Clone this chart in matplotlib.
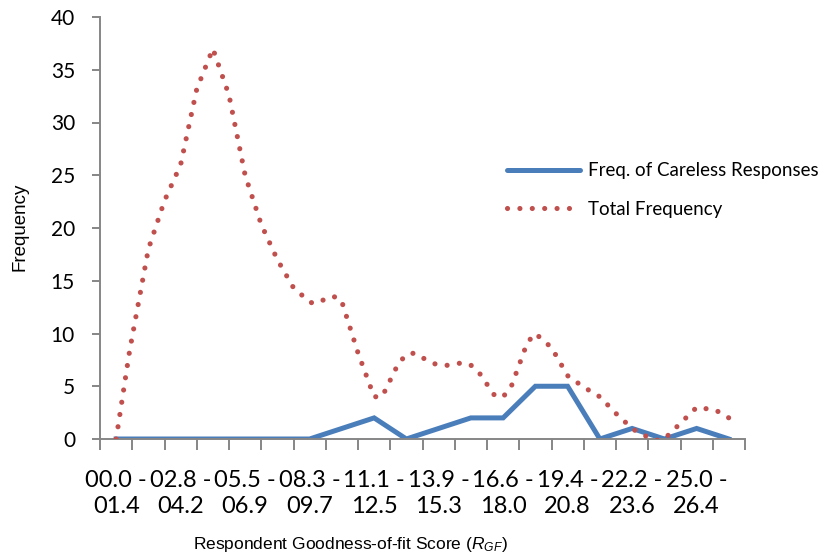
import numpy as np
import matplotlib
matplotlib.use('Agg')
import matplotlib.pyplot as plt
from matplotlib.path import Path
from matplotlib.lines import Line2D

plt.rcParams['font.family'] = ['Lato', 'DejaVu Sans']
plt.rcParams['mathtext.fontset'] = 'custom'
plt.rcParams['mathtext.it'] = 'Liberation Sans:italic'
plt.rcParams['mathtext.rm'] = 'Liberation Sans'

# score bins (lower - upper)
bin_low = ['00.0', '01.4', '02.8', '04.2', '05.5', '06.9', '08.3', '09.7', '11.1', '12.5',
           '13.9', '15.3', '16.6', '18.0', '19.4', '20.8', '22.2', '23.6', '25.0', '26.4']
bin_high = ['01.4', '02.8', '04.2', '05.5', '06.9', '08.3', '09.7', '11.1', '12.5', '13.9',
            '15.3', '16.6', '18.0', '19.4', '20.8', '22.2', '23.6', '25.0', '26.4', '27.8']

careless = [0, 0, 0, 0, 0, 0, 0, 1, 2, 0, 1, 2, 2, 5, 5, 0, 1, 0, 1, 0]
total = [0, 18, 26, 37, 25, 17, 13, 13, 4, 8, 7, 7, 4, 10, 6, 4, 1, 0, 3, 2]

blue = '#4a7ebb'
red = '#c0504d'
axis_grey = '#868686'
dots = (0, (0.01, 2.4))

fig = plt.figure(figsize=(8.27, 5.58), dpi=100)
ax = fig.add_axes([100/827, 1 - 439/558, 645/827, 422/558])

x = np.arange(len(careless))
ax.plot(x, careless, color=blue, lw=3.6, solid_joinstyle='miter', zorder=2)

# excel style smoothed line (cubic bezier through every point)
pts = np.column_stack([x, total]).astype(float)
verts = [pts[0]]
codes = [Path.MOVETO]
n = len(pts)
for i in range(n - 1):
    p0 = pts[max(i - 1, 0)]
    p1 = pts[i]
    p2 = pts[i + 1]
    p3 = pts[min(i + 2, n - 1)]
    c1 = p1 + (p2 - p0) / 6
    c2 = p2 - (p3 - p1) / 6
    verts += [c1, c2, p2]
    codes += [Path.CURVE4] * 3
smooth = Path(verts, codes).to_polygons(closed_only=False)[0]
ax.plot(smooth[:, 0], smooth[:, 1], color=red, lw=3.7, linestyle=dots,
        dash_capstyle='round', zorder=3)

ax.set_xlim(-0.5, len(careless) - 0.5)
ax.set_ylim(0, 40)
ax.set_yticks(np.arange(0, 41, 5))

labels = [bin_low[i] + ' -\n' + bin_high[i] for i in range(0, len(bin_low), 2)]
ax.set_xticks(x[::2])
ax.set_xticklabels(labels, fontsize=17, linespacing=1.3)
ax.set_xticks(np.arange(-0.5, len(careless)), minor=True)
ax.tick_params(axis='x', which='major', length=0, pad=22)
ax.tick_params(axis='x', which='minor', length=8, width=1.4, color=axis_grey)
ax.tick_params(axis='y', length=6, width=1.4, color=axis_grey, labelsize=15, pad=12)

for s in ['top', 'right']:
    ax.spines[s].set_visible(False)
for s in ['left', 'bottom']:
    ax.spines[s].set_color(axis_grey)
    ax.spines[s].set_linewidth(1.4)

handles = [Line2D([], [], color=blue, lw=3.6, solid_capstyle='round'),
           Line2D([], [], color=red, lw=3.7, linestyle=dots, dash_capstyle='round')]
fig.legend(handles, ['Freq. of Careless Responses', 'Total Frequency'],
           loc='center left', bbox_to_anchor=(507/827, 1 - 190/558), frameon=False,
           fontsize=13.5, handlelength=3.9, handletextpad=0.4, labelspacing=1.15,
           borderpad=0, borderaxespad=0)

fig.text(20/827, 1 - 227/558, 'Frequency', rotation=90, ha='center', va='center',
         family='Liberation Sans', fontsize=13.5)
fig.text(350/827, 1 - 545/558, 'Respondent Goodness-of-fit Score ($R_{GF}$)',
         ha='center', va='center', family='Liberation Sans', fontsize=12.5)

fig.savefig('out.png', dpi=100)
